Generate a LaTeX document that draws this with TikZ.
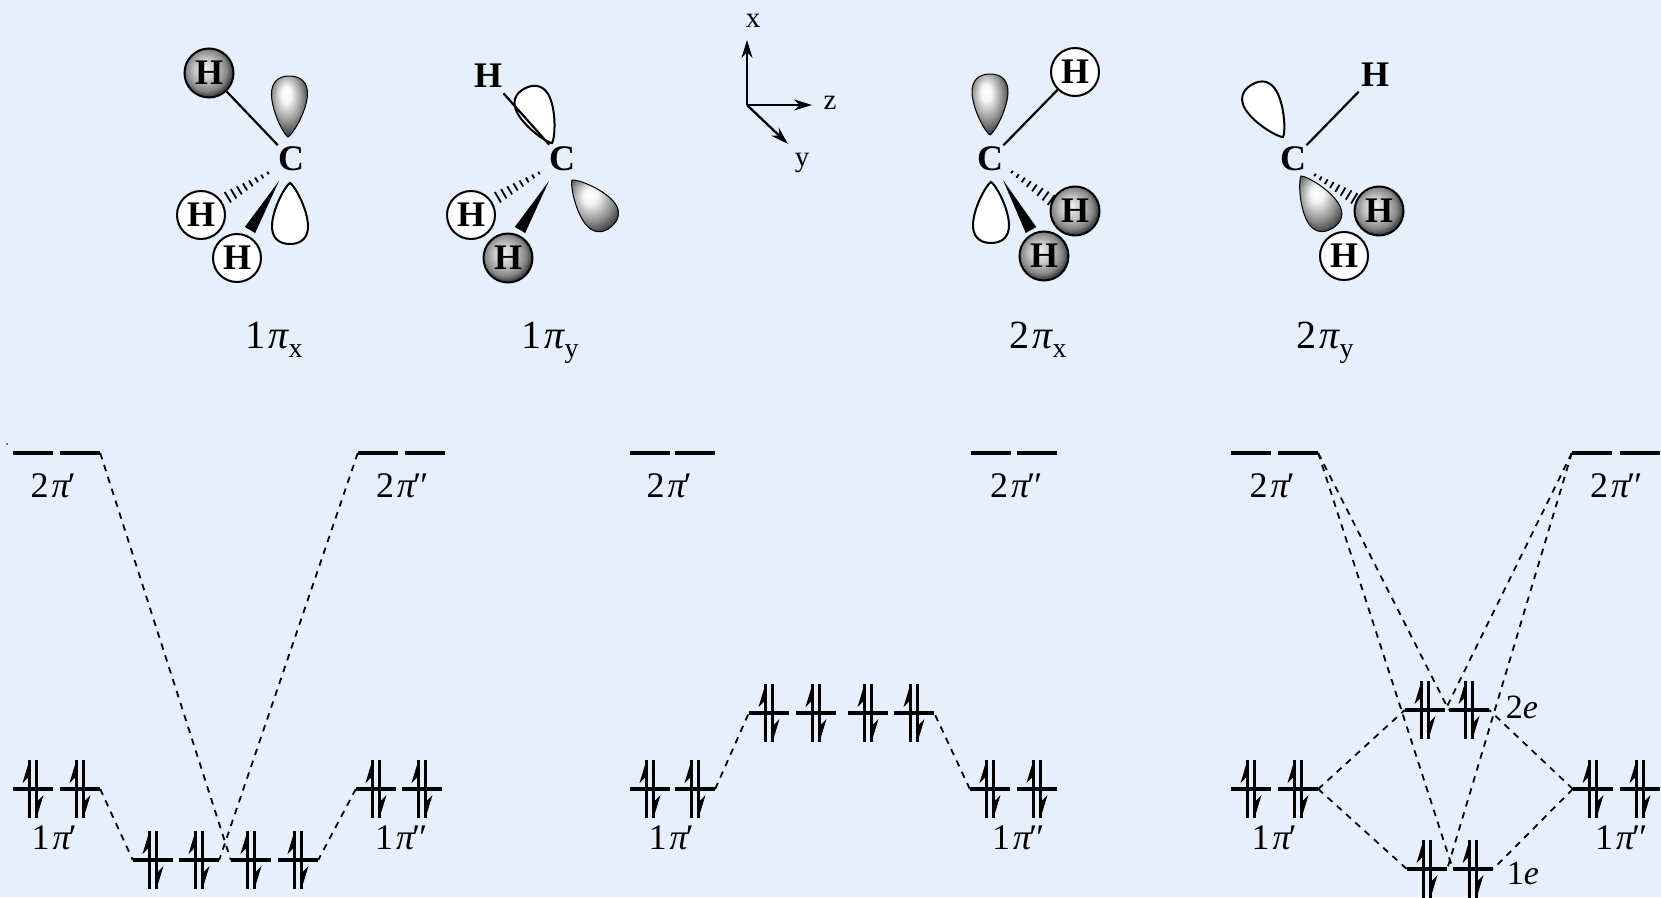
\documentclass[tikz,border=0pt]{standalone}
\usepackage{fontspec}
\setmainfont{Liberation Serif}
\usepackage{color}
\usetikzlibrary{positioning, calc, arrows.meta}
\definecolor{paper}{RGB}{229,240,252}
\pgfdeclareradialshading{hball}{\pgfpoint{-5bp}{5bp}}{color(0bp)=(white!92!gray);color(11bp)=(gray!45);color(21bp)=(gray!95);color(28bp)=(black!85);color(36bp)=(black);color(50bp)=(black)}
\pgfdeclareradialshading{hlobe}{\pgfpoint{-6bp}{11bp}}{color(0bp)=(white);color(7bp)=(white!92!gray);color(20bp)=(gray!85);color(32bp)=(black!85);color(44bp)=(black);color(60bp)=(black)}
\newcommand{\lobepath}{(0,0) .. controls (2,-4) and (24,-17) .. (42,-18) .. controls (54,-18.5) and (61,-12) .. (61,0) .. controls (61,12) and (54,18.5) .. (42,18) .. controls (24,17) and (2,4) .. (0,0) -- cycle}
\tikzset{
	paperbg/.style={fill=paper, draw=none},
	hdark/.style={circle, minimum size=49pt, inner sep=0pt, draw=black, line width=2pt, shade, shading=hball, text=black, font=\fontsize{36}{36}\selectfont\bfseries},
	hlight/.style={circle, minimum size=48pt, inner sep=0pt, draw=black, line width=2pt, fill=white, text=black, font=\fontsize{36}{36}\selectfont\bfseries},
	hplain/.style={circle, minimum size=46pt, inner sep=0pt, font=\fontsize{36}{36}\selectfont\bfseries},
	catom/.style={circle, minimum size=38pt, inner sep=0pt, font=\fontsize{36}{36}\selectfont\bfseries},
	bond/.style={line width=2.2pt},
	hashtick/.style={line width=1.8pt},
	axis/.style={line width=2.3pt, -{Stealth[length=18pt,width=11pt]}},
	axislabel/.style={inner sep=0pt, font=\fontsize{29}{29}\selectfont},
	orblabel/.style={inner sep=0pt, anchor=base, font=\fontsize{40}{40}\selectfont},
	levlabel/.style={inner sep=0pt, font=\fontsize{36}{36}\selectfont},
	splitlabel/.style={inner sep=0pt, font=\fontsize{34}{34}\selectfont},
	level/.style={rectangle, fill=black, minimum width=40pt, minimum height=3.3pt, inner sep=0pt},
	corr/.style={line width=1.8pt, dash pattern=on 6.5pt off 6pt},
	pics/lobew/.style={code={\draw[line width=2pt, fill=white] \lobepath;}},
	pics/lobes/.style={code={\draw[line width=1pt, shade, shading=hlobe] \lobepath;}},
	pics/spinpair/.style={code={
		\draw[line width=3.3pt] (-3.5,29) -- (-3.5,-29);
		\draw[line width=3.3pt] (3.5,-29) -- (3.5,29);
		\fill (-3.5,-29) -- (-10.5,-6) -- (-3.5,-13) -- cycle;
		\fill (3.5,29) -- (10.5,6) -- (3.5,13) -- cycle;
	}}
}
\newcommand{\hashbond}[2]{\foreach \hk in {0,...,7}{
	\pgfmathsetmacro{\hu}{\hk/7.5}
	\pgfmathsetmacro{\hw}{1.5+\hk*0.65}
	\draw[hashtick] ($(#1)!\hu!(#2)!\hw pt!90:(#2)$) -- ($(#1)!\hu!(#2)!\hw pt!-90:(#2)$);}}
\newcommand{\wedgebond}[2]{\fill (#1) -- ($(#2)!6pt!90:(#1)$) -- ($(#2)!6pt!-90:(#1)$) -- cycle;}
\newcommand{\sub}[1]{\raisebox{-9pt}{\fontsize{28}{28}\selectfont #1}}
\newcommand{\orb}[1]{#1\kern3pt{\itshape π}}
\newcommand{\pone}{\kern-4pt{\itshape ′}}
\newcommand{\ptwo}{\kern-4pt{\itshape ′\kern-1pt′}}

\begin{document}
\begin{tikzpicture}[x=1pt,y=-1pt]
\useasboundingbox (0,0) rectangle (1661,897);
\fill[paperbg] (0,0) rectangle (1661,897);
\fill (7,444) circle (0.8);

% first molecule
\node [catom] (c1) at (291,159){C};
\node [hdark] (h1a) at (209,73){H};
\node [hlight] (h1b) at (201,215){H};
\node [hlight] (h1c) at (237,258){H};
\coordinate (hs1) at (268,173);
\coordinate (he1) at (225,199);
\coordinate (wt1) at (279,181);
\coordinate (wb1) at (250,230);
\draw [bond] (h1a) -- (c1);
\hashbond{hs1}{he1}
\wedgebond{wt1}{wb1}
\pic [rotate=88] at (288,137) {lobes};
\pic [rotate=-90] at (290,183) {lobew};

% second molecule
\node [catom] (c2) at (562,159){C};
\node [hplain] (h2a) at (488,76){H};
\node [hlight] (h2b) at (471,215){H};
\node [hdark] (h2c) at (508,258){H};
\coordinate (hs2) at (539,173);
\coordinate (he2) at (495,199);
\coordinate (wt2) at (549,181);
\coordinate (wb2) at (520,230);
\pic [rotate=116] at (552,143) {lobew};
\draw [bond] (h2a) -- (c2);
\hashbond{hs2}{he2}
\wedgebond{wt2}{wb2}
\pic [rotate=-50] at (572,180) {lobes};

% axes
\coordinate (o) at (747,105);
\coordinate (ax) at (747,40);
\coordinate (az) at (812,105);
\coordinate (ay) at (788,144);
\draw [axis] (o) -- (ax);
\draw [axis] (o) -- (az);
\draw [axis] (o) -- (ay);
\node [axislabel] (lx) at (753,21){x};
\node [axislabel] (lz) at (830,103){z};
\node [axislabel] (ly) at (802,163){y};

% third molecule
\node [catom] (c3) at (990,159){C};
\node [hlight] (h3a) at (1075,72){H};
\node [hdark] (h3b) at (1075,211){H};
\node [hdark] (h3c) at (1044,256){H};
\coordinate (hs3) at (1012,172);
\coordinate (he3) at (1054,202);
\coordinate (wt3) at (1003,180);
\coordinate (wb3) at (1031,230);
\draw [bond] (h3a) -- (c3);
\hashbond{hs3}{he3}
\wedgebond{wt3}{wb3}
\pic [rotate=90] at (990,135) {lobes};
\pic [rotate=-90] at (991,182) {lobew};

% fourth molecule
\node [catom] (c4) at (1293,159){C};
\node [hplain] (h4a) at (1375,75){H};
\node [hdark] (h4b) at (1379,211){H};
\node [hlight] (h4c) at (1344,256){H};
\coordinate (hs4) at (1315,175);
\coordinate (he4) at (1357,200);
\draw [bond] (h4a) -- (c4);
\hashbond{hs4}{he4}
\pic [rotate=121] at (1283,137) {lobew};
\pic [rotate=-59] at (1301,176) {lobes};

\node [orblabel] (o1x) at (274,348){\orb{1}\sub{x}};
\node [orblabel] (o1y) at (550,348){\orb{1}\sub{y}};
\node [orblabel] (o2x) at (1038,348){\orb{2}\sub{x}};
\node [orblabel] (o2y) at (1325,348){\orb{2}\sub{y}};

% left levels
\node [level] (a1) at (33,453){};
\node [level] (a2) at (80,453){};
\node [level] (a3) at (378,453){};
\node [level] (a4) at (425,453){};
\node [level] (a5) at (33,789){};
\node [level] (a6) at (80,789){};
\node [level] (a7) at (376,789){};
\node [level] (a8) at (422,789){};
\node [level] (a9) at (153,860){};
\node [level] (a10) at (199,860){};
\node [level] (a11) at (251,860){};
\node [level] (a12) at (298,860){};

% middle levels
\node [level] (b1) at (650,453){};
\node [level] (b2) at (695,453){};
\node [level] (b3) at (991,453){};
\node [level] (b4) at (1037,453){};
\node [level] (b5) at (650,789){};
\node [level] (b6) at (695,789){};
\node [level] (b7) at (990,789){};
\node [level] (b8) at (1037,789){};
\node [level] (b9) at (769,713){};
\node [level] (b10) at (816,713){};
\node [level] (b11) at (868,713){};
\node [level] (b12) at (914,713){};

% right levels
\node [level] (d1) at (1251,453){};
\node [level] (d2) at (1298,453){};
\node [level] (d3) at (1592,453){};
\node [level] (d4) at (1640,453){};
\node [level] (d5) at (1251,789){};
\node [level] (d6) at (1298,789){};
\node [level] (d7) at (1593,789){};
\node [level] (d8) at (1640,789){};
\node [level] (d9) at (1425,710){};
\node [level] (d10) at (1469,710){};
\node [level] (d11) at (1427,869){};
\node [level] (d12) at (1473,869){};

\foreach \lev in {a5,a6,a7,a8,a9,a10,a11,a12,b5,b6,b7,b8,b9,b10,b11,b12,d5,d6,d7,d8,d9,d10,d11,d12}
	\pic at (\lev) {spinpair};

\draw [corr] (a2.east) -- (a11.west);
\draw [corr] (a3.west) -- (a10.east);
\draw [corr] (a6.east) -- (a9.west);
\draw [corr] (a7.west) -- (a12.east);
\draw [corr] (b6.east) -- (b9.west);
\draw [corr] (b7.west) -- (b12.east);
\draw [corr] (d2.east) -- (d10.west);
\draw [corr] (d2.east) -- (d12.west);
\draw [corr] (d3.west) -- (d9.east);
\draw [corr] (d3.west) -- (d11.east);
\draw [corr] (d6.east) -- (d9.west);
\draw [corr] (d6.east) -- (d11.west);
\draw [corr] (d7.west) -- (d10.east);
\draw [corr] (d7.west) -- (d12.east);

\node [levlabel] (t1) at (52,486){\orb{2}\pone};
\node [levlabel] (t2) at (401,486){\orb{2}\ptwo};
\node [levlabel] (t3) at (53,838){\orb{1}\pone};
\node [levlabel] (t4) at (400,838){\orb{1}\ptwo};
\node [levlabel] (t5) at (668,486){\orb{2}\pone};
\node [levlabel] (t6) at (1015,486){\orb{2}\ptwo};
\node [levlabel] (t7) at (670,838){\orb{1}\pone};
\node [levlabel] (t8) at (1017,838){\orb{1}\ptwo};
\node [levlabel] (t9) at (1271,486){\orb{2}\pone};
\node [levlabel] (t10) at (1615,486){\orb{2}\ptwo};
\node [levlabel] (t11) at (1273,838){\orb{1}\pone};
\node [levlabel] (t12) at (1620,838){\orb{1}\ptwo};
\node [splitlabel] (e2) at (1522,707){2{\itshape e}};
\node [splitlabel] (e1) at (1523,873){1{\itshape e}};
\end{tikzpicture}
\end{document}
